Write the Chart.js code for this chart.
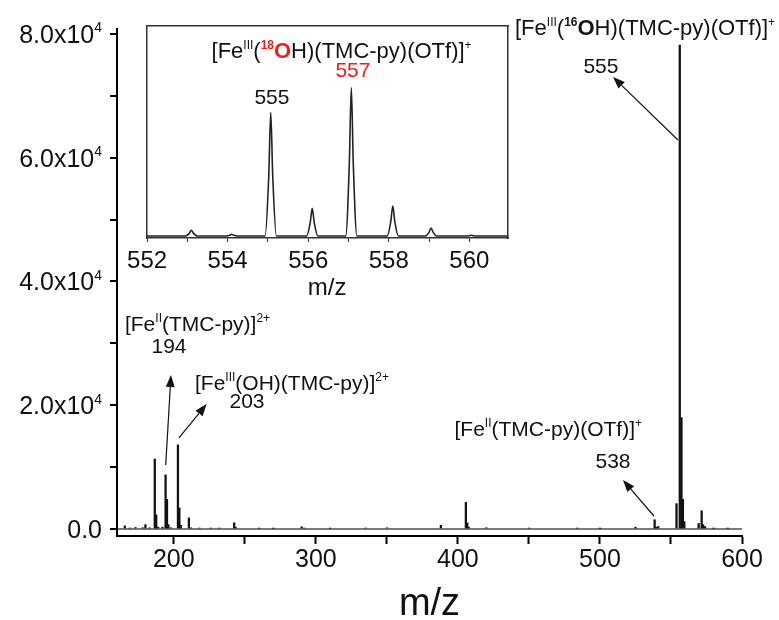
<!DOCTYPE html>
<html>
<head>
<meta charset="utf-8">
<script src="https://cdn.jsdelivr.net/npm/chart.js"></script>
<style>
  body { margin: 0; background: #fff; }
  #main { position: absolute; left: 0; top: 0; }
  #inset { position: absolute; left: 122px; top: 10px; }
</style>
</head>
<body>
<canvas id="main" width="779" height="620"></canvas>
<canvas id="inset" width="400" height="300"></canvas>
<script>
// main spectrum: m/z and intensity of each stick
const mzMain = [165.5, 169, 173, 178, 180, 183, 186.6, 187.6, 189, 192, 194.2, 195.2, 196.2, 198,
  202.9, 203.9, 205, 210.6, 212, 218, 226, 232, 242.5, 243.5, 260, 270, 290, 292, 310, 335, 350,
  388, 405.6, 406.6, 407.6, 420, 450, 484, 500, 525, 538.5, 539.5, 541,
  553.9, 556.2, 557.4, 558.4, 559.4, 569.5, 571.6, 572.6, 574, 580, 590];
const intMain = [500, 150, 250, 200, 700, 200, 11300, 2300, 300, 300, 8750, 4800, 700, 200,
  13600, 3400, 600, 1800, 200, 150, 150, 150, 1000, 300, 120, 100, 350, 150, 100, 150, 200,
  600, 4300, 1000, 300, 200, 150, 120, 100, 300, 1500, 300, 400,
  4100, 78200, 18000, 4800, 1200, 900, 2950, 700, 400, 100, 100];

const xTickValues = [200, 250, 300, 350, 400, 450, 500, 550, 600];
const xTickLabels = ["200", "", "300", "", "400", "", "500", "", "600"];
const yTickValues = [0, 10000, 20000, 30000, 40000, 50000, 60000, 70000, 80000];
const yTickLabels = ["0.0", "", "2.0x10^4", "", "4.0x10^4", "", "6.0x10^4", "", "8.0x10^4"];

// inset: isotope pattern profile (relative intensity)
const mzInset = [551.98,
  552.96, 553.05, 553.1, 553.15, 553.24,
  553.97, 554.05, 554.1, 554.15, 554.23,
  554.93, 555.02, 555.07, 555.12, 555.21,
  555.96, 556.05, 556.1, 556.15, 556.24,
  556.93, 557.02, 557.07, 557.12, 557.21,
  557.96, 558.05, 558.1, 558.15, 558.24,
  558.91, 559.0, 559.05, 559.1, 559.19,
  559.92, 560.0, 560.05, 560.1, 560.18,
  560.96];
const intInset = [0,
  0, 1.9, 3.8, 1.9, 0,
  0, 0.5, 1.1, 0.5, 0,
  0, 40, 83.2, 40, 0,
  0, 9, 18.7, 9, 0,
  0, 48, 100, 48, 0,
  0, 9.7, 20.2, 9.7, 0,
  0, 2.6, 5.4, 2.6, 0,
  0, 0.2, 0.5, 0.2, 0,
  0];
const insetTickValues = [552, 553, 554, 555, 556, 557, 558, 559, 560];
const insetTickLabels = ["552", "", "554", "", "556", "", "558", "", "560"];

const FONT = "'Liberation Sans', Arial, sans-serif";
const RED = "#f01c1c";

// labels: parts are [text, flags]  s = superscript, b = bold, r = red
const mainLabels = [
  { at: [440.2, 81130], size: 22, align: "left",
    parts: [["[Fe"], ["III", "s"], ["("], ["16", "sb"], ["O", "b"], ["H)(TMC-py)(OTf)]"], ["+", "s"]] },
  { at: [500.7, 74990], size: 21, align: "center", parts: [["555"]] },
  { at: [529.6, 16320], size: 21, align: "right",
    parts: [["[Fe"], ["II", "s"], ["(TMC-py)(OTf)]"], ["+", "s"]] },
  { at: [509.2, 11150], size: 21, align: "center", parts: [["538"]] },
  { at: [165.6, 33290], size: 21, align: "left",
    parts: [["[Fe"], ["II", "s"], ["(TMC-py)]"], ["2+", "s"]] },
  { at: [196.6, 29740], size: 21, align: "center", parts: [["194"]] },
  { at: [214.9, 23760], size: 21, align: "left",
    parts: [["[Fe"], ["III", "s"], ["(OH)(TMC-py)]"], ["2+", "s"]] },
  { at: [251.5, 20850], size: 21, align: "center", parts: [["203"]] }
];
const mainArrows = [
  { from: [554.9, 62870], to: [509.2, 73050] },
  { from: [538.0, 2100], to: [516.2, 7920] },
  { from: [194.3, 10340], to: [198.0, 24890] },
  { from: [203.6, 14710], to: [223.1, 20200] }
];
const insetLabels = [
  { at: [553.6, 125.3], size: 22, align: "left",
    parts: [["[Fe"], ["III", "s"], ["("], ["18", "sbr"], ["O", "br"], ["H)(TMC-py)(OTf)]"], ["+", "s"]] },
  { at: [557.11, 111.9], size: 21, align: "center", parts: [["557", "r"]] },
  { at: [555.1, 93.7], size: 21, align: "center", parts: [["555"]] }
];

function drawRich(ctx, parts, x, y, size, align) {
  const supSize = Math.round(size * 0.56);
  const fontOf = (f) => (f.includes("b") ? "bold " : "") + (f.includes("s") ? supSize : size) + "px " + FONT;
  let w = 0;
  parts.forEach(([t, f = ""]) => { ctx.font = fontOf(f); w += ctx.measureText(t).width; });
  let cx = align === "right" ? x - w : align === "center" ? x - w / 2 : x;
  const base = y + size * 0.36;
  ctx.textAlign = "left";
  ctx.textBaseline = "alphabetic";
  parts.forEach(([t, f = ""]) => {
    ctx.font = fontOf(f);
    ctx.fillStyle = f.includes("r") ? RED : "#111";
    ctx.fillText(t, cx, f.includes("s") ? base - size * 0.42 : base);
    cx += ctx.measureText(t).width;
  });
}

function drawArrow(ctx, x1, y1, x2, y2) {
  const a = Math.atan2(y2 - y1, x2 - x1), len = 12, half = 4.5;
  const bx = x2 - len * Math.cos(a), by = y2 - len * Math.sin(a);
  ctx.strokeStyle = "#111"; ctx.fillStyle = "#111"; ctx.lineWidth = 1.2;
  ctx.beginPath(); ctx.moveTo(x1, y1); ctx.lineTo(bx, by); ctx.stroke();
  ctx.beginPath();
  ctx.moveTo(x2, y2);
  ctx.lineTo(bx + half * Math.sin(a), by - half * Math.cos(a));
  ctx.lineTo(bx - half * Math.sin(a), by + half * Math.cos(a));
  ctx.closePath(); ctx.fill();
}

// draws labels/arrows given in data coordinates
const notesPlugin = (labels, arrows) => ({
  id: "notes",
  afterDraw(chart) {
    const { ctx, scales: { x, y } } = chart;
    ctx.save();
    arrows.forEach(({ from, to }) => drawArrow(ctx,
      x.getPixelForValue(from[0]), y.getPixelForValue(from[1]),
      x.getPixelForValue(to[0]), y.getPixelForValue(to[1])));
    labels.forEach((l) => drawRich(ctx, l.parts, x.getPixelForValue(l.at[0]), y.getPixelForValue(l.at[1]), l.size, l.align));
    ctx.restore();
  }
});

// y tick labels like 8.0x10^4 with a real raised exponent
const yLabelPlugin = {
  id: "ylabels",
  afterDraw(chart) {
    const { ctx, scales: { y } } = chart;
    ctx.save();
    yTickValues.forEach((v, i) => {
      if (!yTickLabels[i]) return;
      const [m, e] = yTickLabels[i].split("^");
      const parts = e ? [[m], [e, "s"]] : [[m]];
      drawRich(ctx, parts, y.right - 15, y.getPixelForValue(v), 25, "right");
    });
    ctx.restore();
  }
};

const fixTicks = (values) => (scale) => { scale.ticks = values.map((v) => ({ value: v })); };

new Chart(document.getElementById("main"), {
  type: "bar",
  data: {
    datasets: [{
      data: mzMain.map((m, i) => ({ x: m, y: intMain[i] })),
      backgroundColor: "#111", borderWidth: 0, barThickness: 1.6
    }]
  },
  options: {
    responsive: false, animation: false,
    layout: { padding: { top: 29, right: 37, left: 0, bottom: 0 } },
    plugins: { legend: { display: false }, tooltip: { enabled: false } },
    scales: {
      x: {
        type: "linear", min: 160, max: 600, offset: false,
        afterBuildTicks: fixTicks(xTickValues),
        afterFit: (s) => { s.height = 84; },
        border: { display: true, color: "#000", width: 2 },
        grid: { drawOnChartArea: false, offset: false, tickLength: 8, tickColor: "#000", tickWidth: 2 },
        ticks: { autoSkip: false, maxRotation: 0, padding: 1, color: "#111",
          font: { family: FONT, size: 25 }, callback: (v, i) => xTickLabels[i] },
        title: { display: true, text: "m/z", color: "#111", padding: { top: 0, bottom: -4 },
          font: { family: FONT, size: 38, lineHeight: 1 } }
      },
      y: {
        min: -1130, max: 80800,
        afterBuildTicks: fixTicks(yTickValues),
        afterFit: (s) => { s.width = 117; },
        border: { display: true, color: "#000", width: 2 },
        grid: { tickLength: 7, tickColor: "#000", tickWidth: 2, lineWidth: 2,
          color: (c) => (c.tick && c.tick.value === 0 ? "#7a7a7a" : "rgba(0,0,0,0)") },
        ticks: { display: false, autoSkip: false }
      }
    }
  },
  plugins: [notesPlugin(mainLabels, mainArrows), yLabelPlugin]
});

const hidden = { display: true, ticks: { display: false }, grid: { display: false },
  border: { display: true, color: "#333", width: 1.5 } };

new Chart(document.getElementById("inset"), {
  type: "line",
  data: {
    datasets: [{
      data: mzInset.map((m, i) => ({ x: m, y: intInset[i] })),
      borderColor: "#222", borderWidth: 1.6, pointRadius: 0, cubicInterpolationMode: "monotone"
    }]
  },
  options: {
    responsive: false, animation: false,
    layout: { padding: { top: 16, right: 14, left: 15, bottom: 0 } },
    plugins: { legend: { display: false }, tooltip: { enabled: false } },
    scales: {
      x: {
        type: "linear", min: 551.98, max: 560.96,
        afterBuildTicks: fixTicks(insetTickValues),
        afterFit: (s) => { s.height = 72; },
        border: { display: true, color: "#333", width: 1.5 },
        grid: { drawOnChartArea: false, tickLength: 4, tickColor: "#333", tickWidth: 1 },
        ticks: { autoSkip: false, maxRotation: 0, padding: 5, color: "#111",
          font: { family: FONT, size: 24 }, callback: (v, i) => insetTickLabels[i] },
        title: { display: true, text: "m/z", color: "#111", padding: { top: 0, bottom: 10 },
          font: { family: FONT, size: 24, lineHeight: 1 } }
      },
      y: { ...hidden, min: -1.35, max: 141.5, afterFit: (s) => { s.width = 0; } },
      xTop: { ...hidden, type: "linear", position: "top", min: 551.98, max: 560.96, afterFit: (s) => { s.height = 0; } },
      yRight: { ...hidden, position: "right", min: -1.35, max: 141.5, afterFit: (s) => { s.width = 0; } }
    }
  },
  plugins: [notesPlugin(insetLabels, [])]
});
</script>
</body>
</html>
